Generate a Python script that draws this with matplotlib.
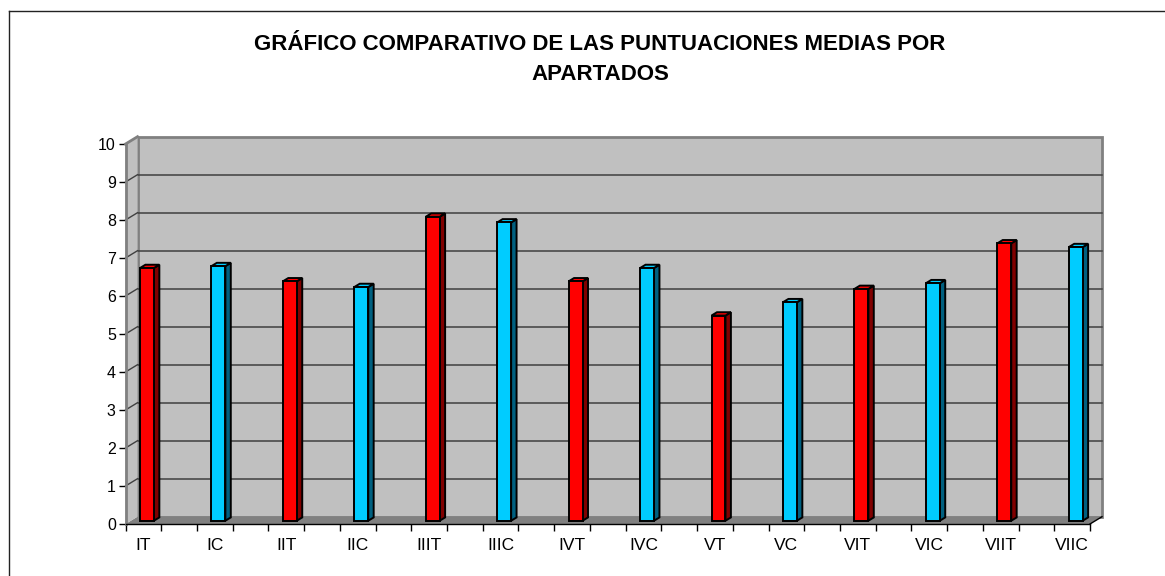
import matplotlib
matplotlib.use('Agg')
import matplotlib.pyplot as plt
from matplotlib.patches import Rectangle, Polygon
from matplotlib.lines import Line2D
import numpy as np

# mean scores per section (T / C)
labels = ['IT', 'IC', 'IIT', 'IIC', 'IIIT', 'IIIC', 'IVT', 'IVC',
          'VT', 'VC', 'VIT', 'VIC', 'VIIT', 'VIIC']
values = [6.65, 6.7, 6.3, 6.15, 8.0, 7.85, 6.3, 6.65,
          5.4, 5.75, 6.1, 6.25, 7.3, 7.2]
yticks = list(range(0, 11))

title_lines = ['GRÁFICO COMPARATIVO DE LAS PUNTUACIONES MEDIAS POR', 'APARTADOS']

red = '#FF0000'
red_side = '#800000'
cyan = '#00CCFF'
cyan_side = '#006080'
wall = '#C0C0C0'
floor = '#808080'

plt.rcParams['font.family'] = ['Liberation Sans', 'DejaVu Sans']

fig = plt.figure(figsize=(11.65, 5.76), dpi=100)
W, H = 1165, 576
ax = fig.add_axes([125.5 / W, (H - 524) / H, (1090 - 125.5) / W, (524 - 144) / H])
ax.set_facecolor('none')

# every bar sits on an even slot, with an empty slot between (27 slots)
n_slots = 2 * len(labels) - 1
xs = np.arange(len(labels)) * 2
ax.set_xlim(-0.5, n_slots - 0.5)
ax.set_ylim(0, 10)

# 3d depth of the wall, in data units (about 12 px right, 7 px up)
DX = 12 / (964.5 / n_slots)
DY = 7.3 / 38.0
x0, x1 = -0.5, n_slots - 0.5

# back wall + gridlines
ax.add_patch(Rectangle((x0 + DX, DY), x1 - x0, 10, facecolor=wall,
                       edgecolor=floor, lw=2, zorder=1, clip_on=False))
for k in yticks[1:-1]:
    ax.plot([x0 + DX, x1 + DX], [k + DY, k + DY], color='#404040', lw=1.1,
            zorder=2, clip_on=False)

# floor and left side wall
ax.add_patch(Polygon([(x0, 0), (x0 + DX, DY), (x1 + DX, DY), (x1, 0)],
                     closed=True, facecolor=floor, edgecolor='none', zorder=2.5,
                     clip_on=False))
ax.add_patch(Polygon([(x0, 0), (x0, 10), (x0 + DX, 10 + DY), (x0 + DX, DY)],
                     closed=True, facecolor=wall, edgecolor='none', zorder=3,
                     clip_on=False))
ax.plot([x0, x0 + DX], [10, 10 + DY], color=floor, lw=2, zorder=3.6, clip_on=False)
for k in yticks[1:-1]:
    ax.plot([x0, x0 + DX], [k, k + DY], color='#404040', lw=1.0,
            zorder=3.5, clip_on=False)
ax.plot([x1, x1 + DX], [0, DY], color='black', lw=1, zorder=3.6, clip_on=False)

# bars as little boxes
f1, f2 = 0.45, 0.9
bw = 0.39
ddx = (f2 - f1) * DX
ddy = (f2 - f1) * DY
for i, (x, v) in enumerate(zip(xs, values)):
    face = red if i % 2 == 0 else cyan
    side = red_side if i % 2 == 0 else cyan_side
    left = x - bw / 2 + f1 * DX - 0.05
    base = f1 * DY
    kw = dict(edgecolor='black', lw=1.4, zorder=5, clip_on=False, joinstyle='miter')
    ax.add_patch(Polygon([(left + bw, base), (left + bw + ddx, base + ddy),
                          (left + bw + ddx, v + f2 * DY), (left + bw, v + base)],
                         closed=True, facecolor=side, **kw))
    ax.add_patch(Polygon([(left, v + base), (left + ddx, v + f2 * DY),
                          (left + bw + ddx, v + f2 * DY), (left + bw, v + base)],
                         closed=True, facecolor=face, **kw))
    ax.add_patch(Rectangle((left, base), bw, v, facecolor=face, **kw))

# axes
for s in ['top', 'right']:
    ax.spines[s].set_visible(False)
ax.spines['left'].set_color(floor)
ax.spines['left'].set_linewidth(2)
ax.spines['bottom'].set_color('black')
ax.spines['bottom'].set_linewidth(1)
ax.spines['left'].set_zorder(6)
ax.spines['bottom'].set_zorder(6)

ax.set_yticks(yticks)
ax.set_yticklabels([str(t) for t in yticks], fontsize=11.5)
ax.tick_params(axis='y', length=5, width=1, color='black', pad=2)

ax.set_xticks(xs)
ax.set_xticklabels(labels, fontsize=12.5)
ax.set_xticks(np.arange(n_slots + 1) - 0.5, minor=True)
ax.tick_params(axis='x', which='major', length=0, pad=10)
ax.tick_params(axis='x', which='minor', length=5, width=1, color='black')

# chart area border (only top and left show in the picture)
fig.add_artist(Line2D([8.5 / W, 8.5 / W], [0, 1 - 11 / H], color='#222222', lw=1))
fig.add_artist(Line2D([8.5 / W, 1], [1 - 11 / H, 1 - 11 / H], color='#222222', lw=1))

for line, ypx in zip(title_lines, [45, 75]):
    fig.text(600 / W, 1 - ypx / H, line, ha='center', va='center', fontsize=16,
             fontweight='bold')

fig.savefig('out.png', dpi=100)
